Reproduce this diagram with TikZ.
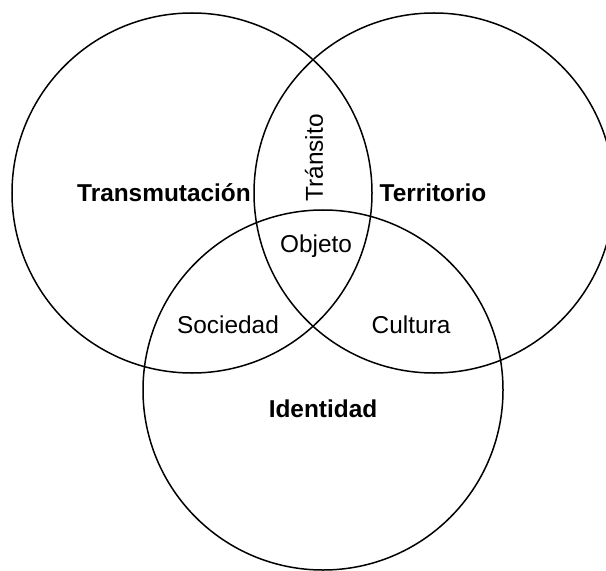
\documentclass[tikz,border=0pt]{standalone}
\usepackage{fontspec}
\setmainfont{Liberation Sans}
\begin{document}
\begin{tikzpicture}[x=1bp,y=-1bp,
    set/.style={line width=1.5bp},
    lbl/.style={font=\fontsize{24.5}{28}\selectfont},
    title/.style={font=\fontsize{24.5}{28}\selectfont\bfseries}]
    \useasboundingbox (0,0) rectangle (606,571);
    % the three sets
    \draw[set] (192,193) circle[radius=180bp];
    \draw[set] (434,193) circle[radius=180bp];
    \draw[set] (323,390) circle[radius=180bp];
    % names of the sets
    \node[title] (trans) at (164,193) {Transmutación};
    \node[title] (terr) at (433,193) {Territorio};
    \node[title] (ident) at (323,409) {Identidad};
    % overlaps
    \node[lbl,rotate=90] (trans2) at (314,158) {Tránsito};
    \node[lbl] (obj) at (316,246) {Objeto};
    \node[lbl] (soc) at (228,325) {Sociedad};
    \node[lbl] (cult) at (411,325) {Cultura};
\end{tikzpicture}
\end{document}
